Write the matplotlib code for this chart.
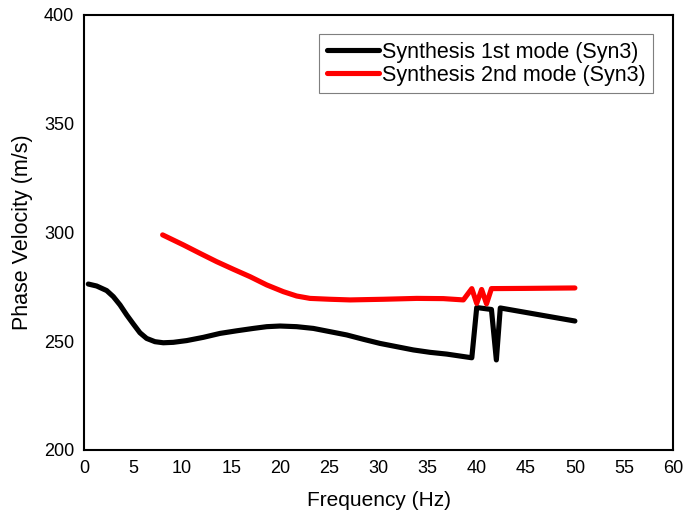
import numpy as np
import matplotlib.pyplot as plt

plt.rcParams['font.family'] = ['Liberation Sans', 'DejaVu Sans']

# 1st mode dispersion curve (Syn3)
freq_1st = [0.44, 1.29, 2.31, 2.99, 3.67, 4.35, 5.03, 5.70, 6.38, 7.23, 8.08,
            9.10, 10.46, 12.16, 13.85, 15.55, 17.25, 18.61, 19.97, 21.66, 23.36,
            25.06, 26.76, 28.45, 30.15, 31.85, 33.55, 35.25, 36.94, 39.5,
            40.0, 41.5, 42.0, 42.4, 50.0]
vel_1st = [276.3, 275.4, 273.3, 270.5, 266.7, 262.1, 257.9, 253.9, 251.3, 249.8,
           249.3, 249.5, 250.3, 251.8, 253.6, 254.8, 255.9, 256.7, 257.0, 256.7,
           255.9, 254.4, 252.9, 250.9, 249.0, 247.5, 246.0, 244.9, 244.1, 242.4,
           265.5, 264.6, 241.4, 265.3, 259.3]

# 2nd mode dispersion curve (Syn3)
freq_2nd = [8.01, 10.12, 11.82, 13.51, 15.21, 16.91, 18.61, 20.30, 21.66, 23.02,
            25.06, 27.10, 30.49, 33.89, 36.60, 38.64, 39.5, 40.0, 40.5, 41.0,
            41.5, 45.0, 50.0]
vel_2nd = [298.9, 294.3, 290.4, 286.6, 283.1, 279.7, 275.9, 272.8, 270.8, 269.7,
           269.3, 269.0, 269.3, 269.7, 269.6, 269.0, 274.2, 267.4, 273.8, 267.2,
           274.2, 274.3, 274.5]

fig = plt.figure(figsize=(6.85, 5.17), dpi=100)
ax = fig.add_axes([0.1226, 0.1296, 0.86, 0.8414])

ax.plot(freq_1st, vel_1st, color='black', lw=3.7, solid_joinstyle='round',
        solid_capstyle='round', label='Synthesis 1st mode (Syn3)')
ax.plot(freq_2nd, vel_2nd, color='#ff0000', lw=3.7, solid_joinstyle='round',
        solid_capstyle='round', label='Synthesis 2nd mode (Syn3)')

ax.set_xlim(0, 60)
ax.set_ylim(200, 400)
ax.set_xticks(np.arange(0, 61, 5))
ax.set_yticks(np.arange(200, 401, 50))
ax.tick_params(length=0, labelsize=13, pad=7)
for s in ax.spines.values():
    s.set_linewidth(1.5)

ax.set_xlabel('Frequency (Hz)', fontsize=15, labelpad=10)
ax.set_ylabel('Phase Velocity (m/s)', fontsize=15.5, labelpad=8)

leg = ax.legend(loc='upper right', bbox_to_anchor=(0.966, 0.956), fontsize=15.5,
                fancybox=False, edgecolor='#7f7f7f', framealpha=1,
                handlelength=2.4, handletextpad=0.15, borderpad=0.35,
                borderaxespad=0, labelspacing=0.1)
leg.get_frame().set_linewidth(0.8)

fig.savefig('out.png', dpi=100)
